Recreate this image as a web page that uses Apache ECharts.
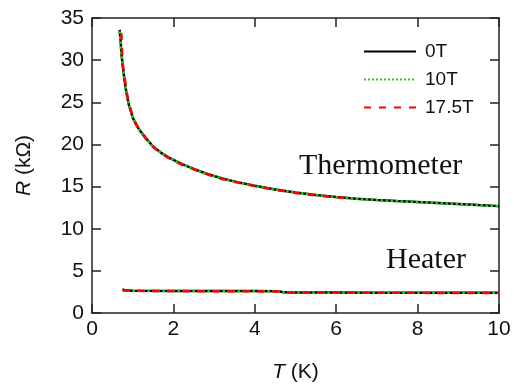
<!DOCTYPE html>
<html>
<head>
<meta charset="utf-8">
<script src="https://cdn.jsdelivr.net/npm/echarts@6/dist/echarts.min.js"></script>
<style>
  html, body { margin: 0; padding: 0; background: #fff; }
  #main { width: 514px; height: 392px; }
</style>
</head>
<body>
<div id="main"></div>
<script>
// thermometer curve, T in K, R in kOhm
var thermT    = [0.68, 0.70, 0.72, 0.75, 0.80, 0.85, 0.90, 1.0, 1.1, 1.2, 1.35, 1.5, 1.7, 1.9, 2.2, 2.5, 2.8, 3.2, 3.6, 4.0, 4.5, 5.0, 5.5, 6.0, 6.5, 7.0, 7.5, 8.0, 8.5, 9.0, 9.5, 10.0];
var thermR0   = [33.6, 32.5, 31.0, 29.5, 27.6, 26.0, 24.8, 23.2, 22.2, 21.5, 20.6, 19.75, 19.0, 18.4, 17.7, 17.1, 16.55, 15.95, 15.5, 15.1, 14.65, 14.3, 14.0, 13.75, 13.55, 13.4, 13.28, 13.17, 13.05, 12.93, 12.8, 12.68];
var thermR10  = [33.4, 32.4, 30.9, 29.4, 27.7, 26.1, 24.9, 23.2, 22.2, 21.4, 20.6, 19.7, 19.0, 18.4, 17.65, 17.1, 16.5, 15.95, 15.45, 15.05, 14.65, 14.3, 14.0, 13.75, 13.55, 13.4, 13.27, 13.15, 13.05, 12.92, 12.8, 12.66];
var thermT175 = [0.72, 0.75, 0.80, 0.85, 0.90, 1.0, 1.1, 1.2, 1.35, 1.5, 1.7, 1.9, 2.2, 2.5, 2.8, 3.2, 3.6, 4.0, 4.5, 5.0, 5.5, 6.0, 6.3];
var thermR175 = [33.2, 29.8, 27.9, 26.3, 25.0, 23.3, 22.3, 21.5, 20.5, 19.7, 18.95, 18.35, 17.6, 17.05, 16.5, 15.9, 15.45, 15.05, 14.6, 14.25, 13.95, 13.72, 13.6];

// heater curve
var heatT    = [0.75, 0.80, 1.0, 2.0, 3.0, 4.0, 4.6, 4.7, 5.0, 6.0, 7.0, 8.0, 9.0, 10.0];
var heatR0   = [2.85, 2.70, 2.65, 2.62, 2.60, 2.60, 2.58, 2.45, 2.42, 2.42, 2.40, 2.40, 2.40, 2.40];
var heatR10  = [2.75, 2.68, 2.64, 2.61, 2.60, 2.59, 2.57, 2.45, 2.42, 2.41, 2.40, 2.40, 2.39, 2.39];
var heatR175 = [2.70, 2.66, 2.63, 2.60, 2.58, 2.57, 2.55, 2.44, 2.41, 2.40, 2.39, 2.39, 2.38, 2.38];

var xTicks = [0, 2, 4, 6, 8, 10];
var yTicks = [0, 5, 10, 15, 20, 25, 30, 35];

function pairs(xs, ys) {
  return xs.map(function (x, i) { return [x, ys[i]]; });
}

var styles = {
  '0T':    { color: '#000000', width: 2.5, type: 'solid' },
  '10T':   { color: '#22cc22', width: 2.5, type: 'dotted' },
  '17.5T': { color: '#ff0000', width: 2.5, type: [7, 8] }
};

function line(name, data, z) {
  var s = styles[name];
  return {
    name: name, type: 'line', data: data, showSymbol: false, symbol: 'none',
    z: z, animation: false,
    itemStyle: { color: s.color },
    lineStyle: { color: s.color, width: s.width, type: s.type }
  };
}

var font = 'Liberation Sans, Arial, sans-serif';
var serif = '30px "Liberation Serif", "Times New Roman", serif';
var axisBase = {
  type: 'value',
  axisLine: { show: true, onZero: false, lineStyle: { color: '#222', width: 1.5 } },
  axisTick: { show: true, inside: true, length: 9, lineStyle: { color: '#222', width: 1.5 } },
  splitLine: { show: false }
};
var nameStyle = {
  fontFamily: font, fontSize: 21, color: '#111',
  rich: { i: { fontFamily: font, fontSize: 21, fontStyle: 'italic', color: '#111' } }
};

var chart = echarts.init(document.getElementById('main'));
chart.setOption({
  backgroundColor: '#fff',
  animation: false,
  grid: { left: 92, right: 15, top: 18, bottom: 79 },
  legend: {
    data: ['0T', '10T', '17.5T'],
    orient: 'vertical', left: 358, top: 37,
    itemWidth: 52, itemHeight: 16, itemGap: 9,
    itemStyle: { opacity: 0 },
    textStyle: { fontFamily: font, fontSize: 19, color: '#111', padding: [0, 0, 0, 4] }
  },
  xAxis: [
    Object.assign({}, axisBase, {
      position: 'bottom', min: 0, max: 10, interval: 2,
      name: '{i|T} (K)', nameLocation: 'middle', nameGap: 49,
      nameTextStyle: nameStyle,
      axisLabel: { fontFamily: font, fontSize: 21, color: '#111', margin: 6 }
    }),
    Object.assign({}, axisBase, {
      position: 'top', min: 0, max: 10, interval: 2, axisLabel: { show: false }
    })
  ],
  yAxis: [
    Object.assign({}, axisBase, {
      position: 'left', min: 0, max: 35, interval: 5,
      name: '{i|R} (kΩ)', nameLocation: 'middle', nameGap: 57, nameRotate: 90,
      nameTextStyle: nameStyle,
      axisLabel: { fontFamily: font, fontSize: 21, color: '#111', margin: 8 }
    }),
    Object.assign({}, axisBase, {
      position: 'right', min: 0, max: 35, interval: 5, axisLabel: { show: false }
    })
  ],
  graphic: [
    { type: 'text', left: 299, top: 151,
      style: { text: 'Thermometer', font: serif, fill: '#111' } },
    { type: 'text', left: 386, top: 245,
      style: { text: 'Heater', font: serif, fill: '#111' } }
  ],
  series: [
    line('0T', pairs(thermT, thermR0), 2),
    line('0T', pairs(heatT, heatR0), 2),
    line('10T', pairs(thermT, thermR10), 3),
    line('10T', pairs(heatT, heatR10), 3),
    line('17.5T', pairs(thermT175, thermR175), 4),
    line('17.5T', pairs(heatT, heatR175), 4)
  ]
});
</script>
</body>
</html>
